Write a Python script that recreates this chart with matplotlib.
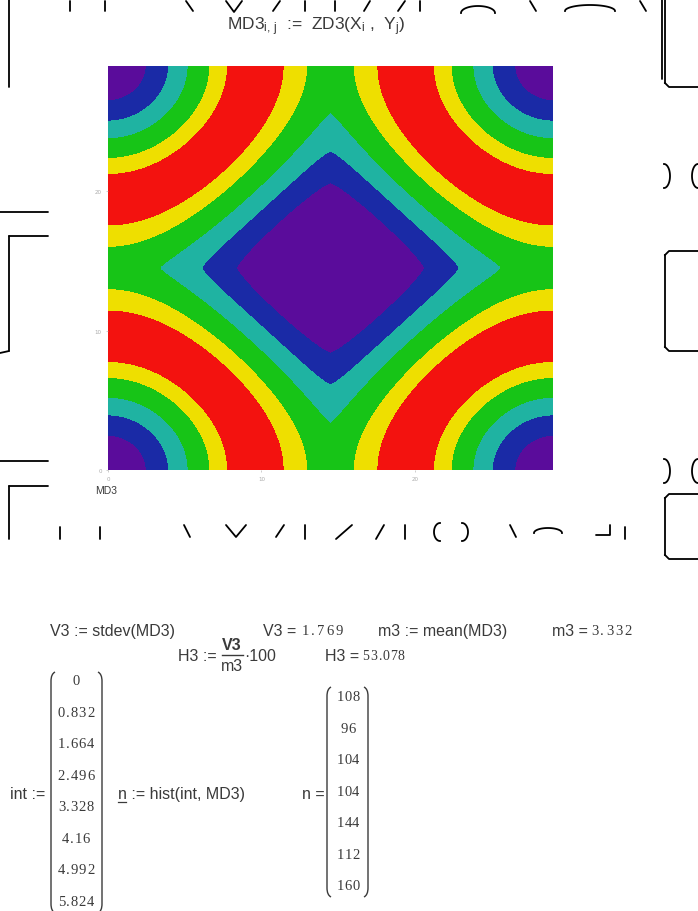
import numpy as np
import matplotlib
matplotlib.use("Agg")
import matplotlib.pyplot as plt
from matplotlib.path import Path
from matplotlib.patches import PathPatch

plt.rcParams['mathtext.fontset'] = 'custom'
plt.rcParams['mathtext.rm'] = 'Liberation Sans'
plt.rcParams['mathtext.it'] = 'Liberation Sans'

W, H = 698, 912

# grid and surface
X = np.linspace(0, 29, 291)
Y = np.linspace(0, 29, 291)
tick_vals = [0, 10, 20]
tick_labels = ['0', '10', '20']

def ZD3(x, y):
    cx = np.abs(np.cos(np.pi * x / 29)) ** 1.25
    cy = np.abs(np.cos(np.pi * y / 29)) ** 1.25
    phi = ((cx + cy) / 2) ** 2
    return 5.824 * (1 - ((phi - 0.515) / 0.515) ** 2)

MD3 = ZD3(X[:, None], Y[None, :])
levels = [-1, 1.56, 2.71, 3.80, 4.87, 5.48, 6]
band_colors = ['#5a0c9b', '#1a2aa6', '#1fb3a2', '#17c417', '#eedf00', '#f3120f']

# worksheet results
int_vals = ['0', '0.832', '1.664', '2.496', '3.328', '4.16', '4.992', '5.824']
n_vals = ['108', '96', '104', '104', '144', '112', '160']
V3 = '1.769'
m3 = '3.332'
H3 = '53.078'

fig = plt.figure(figsize=(W / 100, H / 100), dpi=100)
fig.patch.set_facecolor('white')

# full-page overlay in pixel units
bg = fig.add_axes([0, 0, 1, 1])
bg.set_xlim(0, W)
bg.set_ylim(H, 0)
bg.axis('off')

ax = fig.add_axes([108 / W, 1 - 471 / H, 445 / W, 404 / H])
ax.contourf(X, Y, MD3.T, levels=levels, colors=band_colors)
ax.set_xlim(0, 29)
ax.set_ylim(0, 29)
ax.set_xticks(tick_vals, tick_labels)
ax.set_yticks(tick_vals, tick_labels)
ax.tick_params(length=1.5, width=0.4, colors='#aaaaaa', labelsize=4, pad=3)
for sp in ax.spines.values():
    sp.set_visible(False)

ink = '#3a3a3a'
sans = 'Liberation Sans'
serif = 'Liberation Serif'

def txt(x, y, s, size=11.5, family=sans, ha='left', **kw):
    bg.text(x, y, s, fontsize=size, family=family, ha=ha, va='center', color=ink, **kw)

def num(x, y, s, size=10.5, adv=7.8, ha='left'):
    # result numbers are set with wide, even spacing
    steps = [adv * (0.55 if c == '.' else 1) for c in s]
    total = sum(steps)
    x0 = x - total / 2 if ha == 'center' else x
    for c, st in zip(s, steps):
        bg.text(x0 + st / 2, y, c, fontsize=size, family=serif,
                ha='center', va='center', color=ink)
        x0 += st

txt(316, 27, r'MD3$_{i,\,j}$  :=  ZD3(X$_i$ ,  Y$_j$)', size=12.5, ha='center')
txt(95, 491, 'MD3', size=7.5)

txt(50, 632, 'V3 := stdev(MD3)')
txt(263, 632, 'V3 = ')
num(301, 632, V3, size=10.5, adv=9.5)
txt(378, 632, 'm3 := mean(MD3)')
txt(552, 632, 'm3 = ')
num(590, 632, m3, size=10.5, adv=9.5)

txt(178, 657, 'H3 :=')
txt(232, 646, 'V3', ha='center', weight='bold')
bg.plot([222, 243], [656, 656], color=ink, lw=1)
txt(232, 667, 'm3', ha='center')
txt(244, 657, '·100')
txt(325, 657, 'H3 = ')
num(362, 657, H3, size=10, adv=7.8)

def paren(x, top, bottom, side):
    c = 1 if side == 'l' else -1
    verts = [(x + 4 * c, top), (x, top + 2), (x, top + 9),
             (x, bottom - 9), (x, bottom - 2), (x + 4 * c, bottom)]
    codes = [Path.MOVETO, Path.CURVE3, Path.CURVE3,
             Path.LINETO, Path.CURVE3, Path.CURVE3]
    bg.add_patch(PathPatch(Path(verts, codes), fill=False, ec=ink, lw=1))

txt(10, 795, 'int :=')
paren(51, 673, 914, 'l')
paren(102, 673, 914, 'r')
for k, v in enumerate(int_vals):
    num(76, 682 + 31.5 * k, v, size=10.5, adv=8.2, ha='center')

txt(118, 795, 'n := hist(int, MD3)')
bg.plot([118, 126], [803, 803], color=ink, lw=0.9)

txt(302, 795, 'n =')
paren(327, 688, 898, 'l')
paren(368, 688, 898, 'r')
for k, v in enumerate(n_vals):
    num(348, 698 + 31.5 * k, v, size=10.5, adv=7.8, ha='center')

# background lettering fragments
strokes = [
    [(9, 0), (9, 88)],
    [(70, 2), (70, 12)], [(105, 2), (105, 12)],
    [(186, 2), (193, 12)], [(226, 2), (234, 13), (242, 2)],
    [(280, 2), (273, 12)], [(305, 2), (305, 12)], [(335, 2), (335, 12)],
    [(370, 2), (364, 12)], [(405, 2), (398, 12)], [(420, 2), (420, 12)],
    [(530, 2), (536, 12)], [(640, 2), (646, 12)],
    [(0, 213), (48, 213)], [(9, 237), (48, 237)], [(9, 237), (9, 352)], [(9, 352), (0, 354)],
    [(0, 462), (48, 462)], [(9, 487), (48, 487)], [(9, 487), (9, 540)],
    [(60, 528), (60, 540)], [(100, 528), (100, 540)],
    [(184, 526), (190, 538)], [(226, 526), (236, 538), (246, 526)],
    [(284, 526), (276, 538)], [(305, 526), (305, 540)],
    [(352, 526), (336, 540)], [(384, 526), (376, 540)], [(405, 526), (405, 540)],
    [(510, 526), (516, 538)], [(596, 536), (610, 536), (610, 526)], [(625, 528), (625, 540)],
    [(662, 0), (662, 80)],
]
for pts in strokes:
    xs, ys = zip(*pts)
    bg.plot(xs, ys, color='black', lw=1.3, solid_capstyle='round')

# arcs and rounded boxes
t = np.linspace(0, np.pi, 40)
bg.plot(478 + 17 * np.cos(t), 14 - 7 * np.sin(t), color='black', lw=1.3)
bg.plot(590 + 25 * np.cos(t), 12 - 6 * np.sin(t), color='black', lw=1.3)
bg.plot(548 + 14 * np.cos(t), 534 - 5 * np.sin(t), color='black', lw=1.3)
tt = np.linspace(-np.pi / 2, np.pi / 2, 30)
for y0 in (177, 472):
    bg.plot(664 + 6 * np.cos(tt), y0 + 12 * np.sin(tt), color='black', lw=1.3)
    bg.plot(698 - 6 * np.cos(tt), y0 + 12 * np.sin(tt), color='black', lw=1.3)
bg.plot(440 - 6 * np.cos(tt), 533 + 9 * np.sin(tt), color='black', lw=1.3)
bg.plot(462 + 6 * np.cos(tt), 533 + 9 * np.sin(tt), color='black', lw=1.3)
for top, bot in ((-10, 88), (252, 352), (495, 560)):
    bg.plot([665, 665], [top + 4, bot - 4], color='black', lw=1.3)
    bg.plot([665, 669, 698], [bot - 4, bot, bot], color='black', lw=1.3)
    bg.plot([665, 669, 698], [top + 4, top, top], color='black', lw=1.3)

fig.savefig('out.png', dpi=100, facecolor='white')
